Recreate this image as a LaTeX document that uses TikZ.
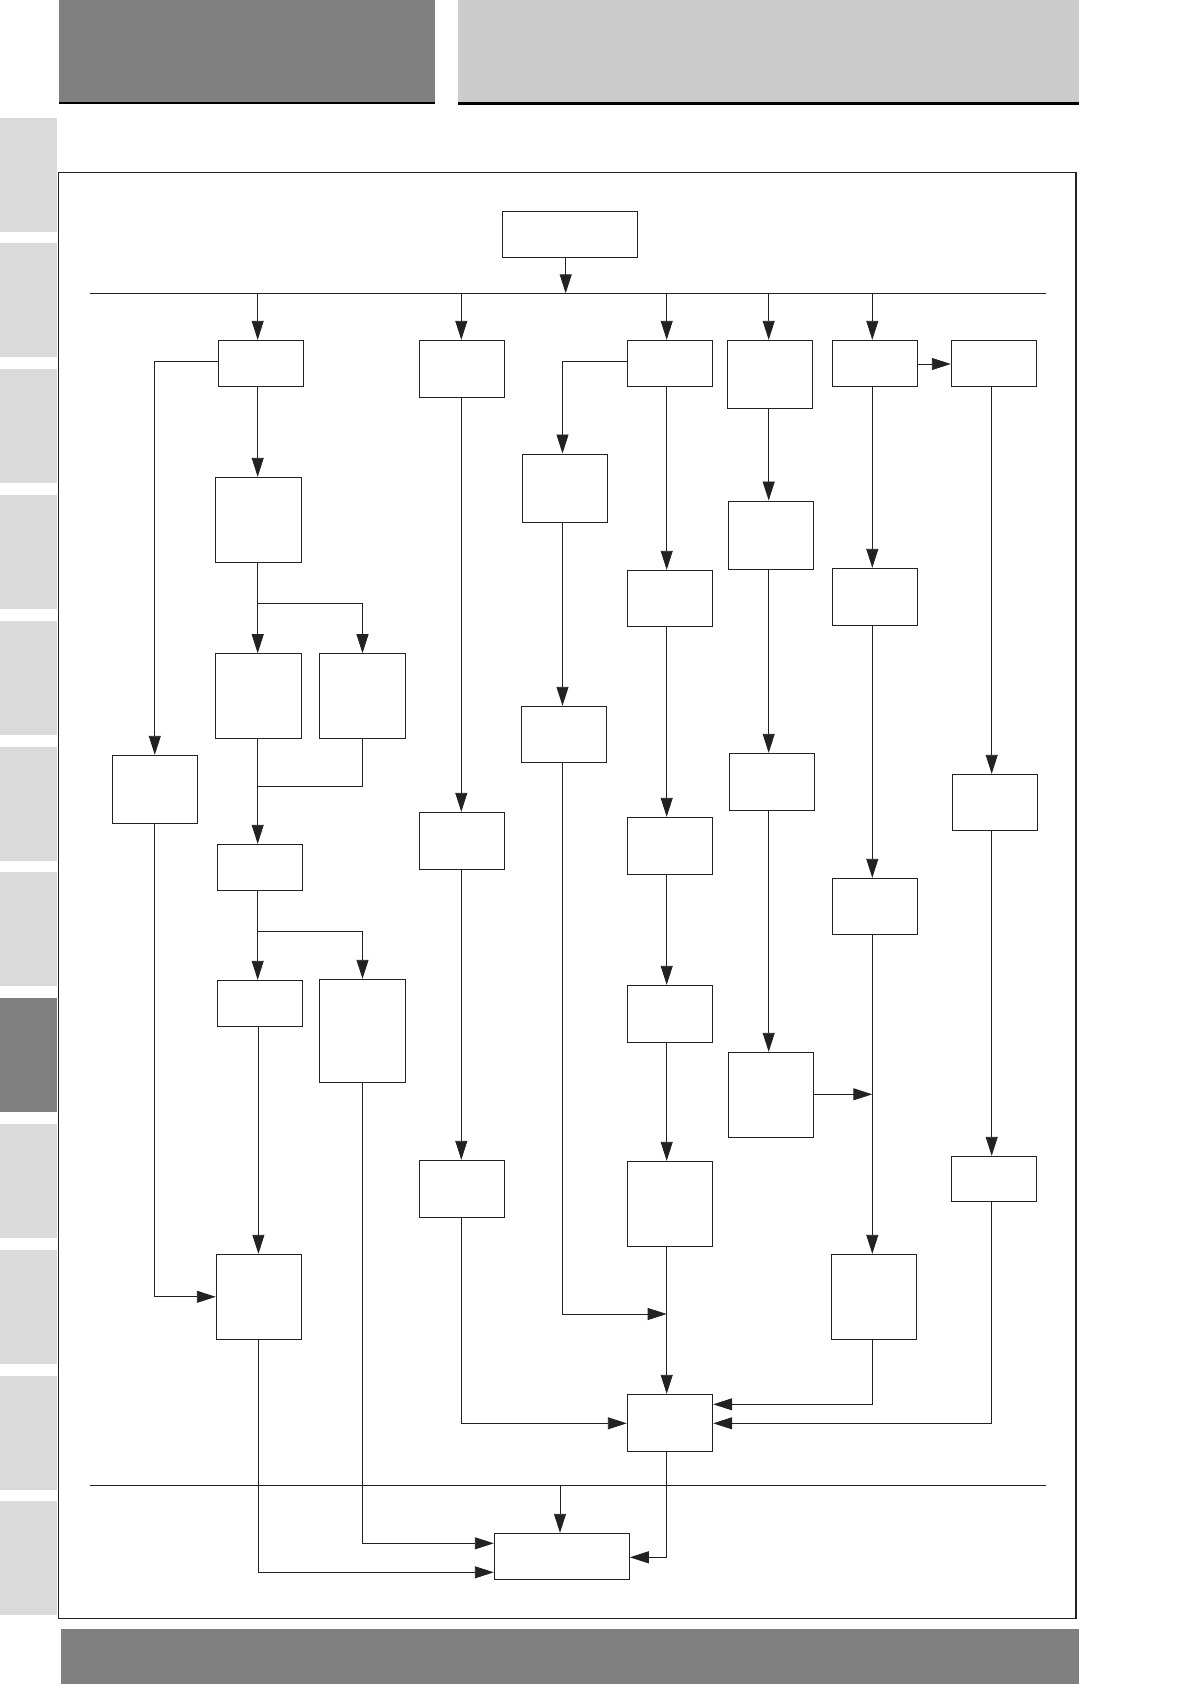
\documentclass[tikz,border=0pt]{standalone}
\usetikzlibrary{arrows.meta,fit}
\definecolor{ink}{RGB}{34,34,34}
\definecolor{tabgray}{RGB}{218,218,218}
\definecolor{darkgray}{RGB}{128,128,128}
\definecolor{lightgray}{RGB}{204,204,204}
\begin{document}
\begin{tikzpicture}[x=1pt,y=-1pt,
  box/.style={draw=ink,line width=1pt,inner sep=0pt},
  ln/.style={draw=ink,line width=0.9pt},
  arr/.style={draw=ink,line width=0.9pt,-{Triangle[length=19pt,width=12pt]}}]
\useasboundingbox (0,0) rectangle (1190,1684);
% page decoration
\fill[darkgray] (59,0) rectangle (435,101.7);
\fill[black] (59,101.7) rectangle (435,104);
\fill[lightgray] (458,0) rectangle (1079,102);
\fill[black] (458,102) rectangle (1079,104.5);
\foreach \i in {0,...,11}{
  \fill[tabgray] (0,117.5+125.8*\i) rectangle (57,231.5+125.8*\i);
}
\fill[darkgray] (0,117.5+125.8*7) rectangle (57,231.5+125.8*7);
\fill[darkgray] (61,1629) rectangle (1079,1684);
% frame
\draw[ink,line width=1.6pt] (58.3,172.3) rectangle (1075.7,1618.3);
% buses
\coordinate (busL) at (90,293.3);
\coordinate (busR) at (1046,293.3);
\coordinate (bbusL) at (90,1485.3);
\coordinate (bbusR) at (1046,1485.3);
\draw[ln] (busL) -- (busR);
\draw[ln] (bbusL) -- (bbusR);
% column x positions
\coordinate (xA) at (257.7,0);
\coordinate (xAl) at (258.4,0);
\coordinate (xB) at (461.3,0);
\coordinate (xC) at (562.5,0);
\coordinate (xD) at (666.7,0);
\coordinate (xE) at (768.7,0);
\coordinate (xF) at (872.3,0);
\coordinate (xG) at (991.7,0);
\coordinate (xT) at (565.7,0);
\coordinate (xFin) at (560,0);
% boxes
\node[box,fit={(502,211)(637,257)}] (T) {};
\node[box,fit={(218.3,340.3)(303.7,386.3)}] (A1) {};
\node[box,fit={(419.3,340.3)(504.7,397.3)}] (B1) {};
\node[box,fit={(627.3,340.3)(712.7,386.3)}] (D1) {};
\node[box,fit={(727.3,340.3)(812.7,408.3)}] (E1) {};
\node[box,fit={(832.3,340.3)(917.7,386.3)}] (F1) {};
\node[box,fit={(951.3,340.3)(1036.7,386.3)}] (G1) {};
\node[box,fit={(215.3,477.3)(301.7,562.3)}] (A2) {};
\node[box,fit={(522.3,454)(607.7,522.3)}] (C2) {};
\node[box,fit={(728.3,501)(813.7,569.3)}] (E2) {};
\node[box,fit={(627.3,570.3)(712.7,626.3)}] (D2) {};
\node[box,fit={(832.3,568.3)(917.7,625.3)}] (F2) {};
\node[box,fit={(215.3,653.7)(301.7,738.3)}] (A3a) {};
\node[box,fit={(319.3,653.7)(405.7,738.3)}] (A3b) {};
\node[box,fit={(521.3,706.3)(606.7,762.3)}] (C3) {};
\node[box,fit={(112.3,755.3)(197.3,823.3)}] (L) {};
\node[box,fit={(729.3,753.3)(814.7,810.3)}] (E3) {};
\node[box,fit={(952.3,774.3)(1037.7,830.3)}] (G2) {};
\node[box,fit={(419.3,812.3)(504.7,869.3)}] (B2) {};
\node[box,fit={(627.3,817.3)(712.7,874.3)}] (D3) {};
\node[box,fit={(217.3,844.3)(302.3,890.3)}] (A4) {};
\node[box,fit={(832.3,878.3)(917.7,934.3)}] (F3) {};
\node[box,fit={(217.3,980.3)(302.3,1026.3)}] (A5a) {};
\node[box,fit={(319.3,979.3)(405.7,1082.3)}] (A5b) {};
\node[box,fit={(627.3,985.3)(712.7,1042.3)}] (D4) {};
\node[box,fit={(728.3,1052.3)(813.7,1137.3)}] (E4) {};
\node[box,fit={(951.3,1156.3)(1036.7,1201.3)}] (G3) {};
\node[box,fit={(419.3,1160.3)(504.7,1217.3)}] (B3) {};
\node[box,fit={(627.3,1161.3)(712.7,1246.3)}] (D5) {};
\node[box,fit={(216.3,1254.3)(301.7,1339.3)}] (A6) {};
\node[box,fit={(831.3,1254.3)(916.7,1339.3)}] (F4) {};
\node[box,fit={(627.3,1394.3)(712.7,1451.3)}] (D6) {};
\node[box,fit={(494.3,1533.3)(629.3,1579.3)}] (Fin) {};
% junction coordinates
\coordinate (sp1) at (0,603.3);
\coordinate (mg1) at (0,786);
\coordinate (sp2) at (0,931.3);
% top box to bus
\draw[arr] (T.south -| xT) -- (xT |- busL);
% bus drops
\draw[arr] (xA |- busL) -- (xA |- A1.north);
\draw[arr] (xB |- busL) -- (xB |- B1.north);
\draw[arr] (xD |- busL) -- (xD |- D1.north);
\draw[arr] (xE |- busL) -- (xE |- E1.north);
\draw[arr] (xF |- busL) -- (xF |- F1.north);
% column A
\draw[arr] (A1.west |- 0,361) -| (L.north);
\draw[arr] (xA |- A1.south) -- (xA |- A2.north);
\draw[ln] (xA |- A2.south) -- (xA |- sp1);
\draw[arr] (xA |- sp1) -- (xA |- A3a.north);
\draw[arr] (xA |- sp1) -| (A3b.north);
\draw[ln] (A3b.south) |- (xA |- mg1);
\draw[arr] (xA |- A3a.south) -- (xA |- A4.north);
\draw[ln] (xA |- A4.south) -- (xA |- sp2);
\draw[arr] (xA |- sp2) -- (xA |- A5a.north);
\draw[arr] (xA |- sp2) -| (A5b.north);
\draw[arr] (xAl |- A5a.south) -- (xAl |- A6.north);
\draw[arr] (L.south) |- (A6.west);
\draw[arr] (xAl |- A6.south) |- (Fin.west |- 0,1572.3);
\draw[arr] (A5b.south) |- (Fin.west |- 0,1543.3);
% column B
\draw[arr] (xB |- B1.south) -- (xB |- B2.north);
\draw[arr] (xB |- B2.south) -- (xB |- B3.north);
\draw[arr] (xB |- B3.south) |- (D6.west |- 0,1423.3);
% column C
\draw[arr] (D1.west |- 0,361.3) -| (xC |- C2.north);
\draw[arr] (xC |- C2.south) -- (xC |- C3.north);
\draw[arr] (xC |- C3.south) |- (xD |- 0,1314);
% column D
\draw[arr] (xD |- D1.south) -- (xD |- D2.north);
\draw[arr] (xD |- D2.south) -- (xD |- D3.north);
\draw[arr] (xD |- D3.south) -- (xD |- D4.north);
\draw[arr] (xD |- D4.south) -- (xD |- D5.north);
\draw[arr] (xD |- D5.south) -- (xD |- D6.north);
\draw[arr] (xD |- D6.south) |- (Fin.east |- 0,1557.3);
% column E
\draw[arr] (xE |- E1.south) -- (xE |- E2.north);
\draw[arr] (xE |- E2.south) -- (xE |- E3.north);
\draw[arr] (xE |- E3.south) -- (xE |- E4.north);
\draw[arr] (E4.east |- 0,1094.3) -- (xF |- 0,1094.3);
% column F
\draw[arr] (F1.east |- 0,364) -- (G1.west |- 0,364);
\draw[arr] (xF |- F1.south) -- (xF |- F2.north);
\draw[arr] (xF |- F2.south) -- (xF |- F3.north);
\draw[arr] (xF |- F3.south) -- (xF |- F4.north);
\draw[arr] (xF |- F4.south) |- (D6.east |- 0,1404.3);
% column G
\draw[arr] (xG |- G1.south) -- (xG |- G2.north);
\draw[arr] (xG |- G2.south) -- (xG |- G3.north);
\draw[arr] (xG |- G3.south) |- (D6.east |- 0,1423.3);
% bottom bus to final box
\draw[arr] (xFin |- bbusL) -- (xFin |- Fin.north);
\end{tikzpicture}
\end{document}
